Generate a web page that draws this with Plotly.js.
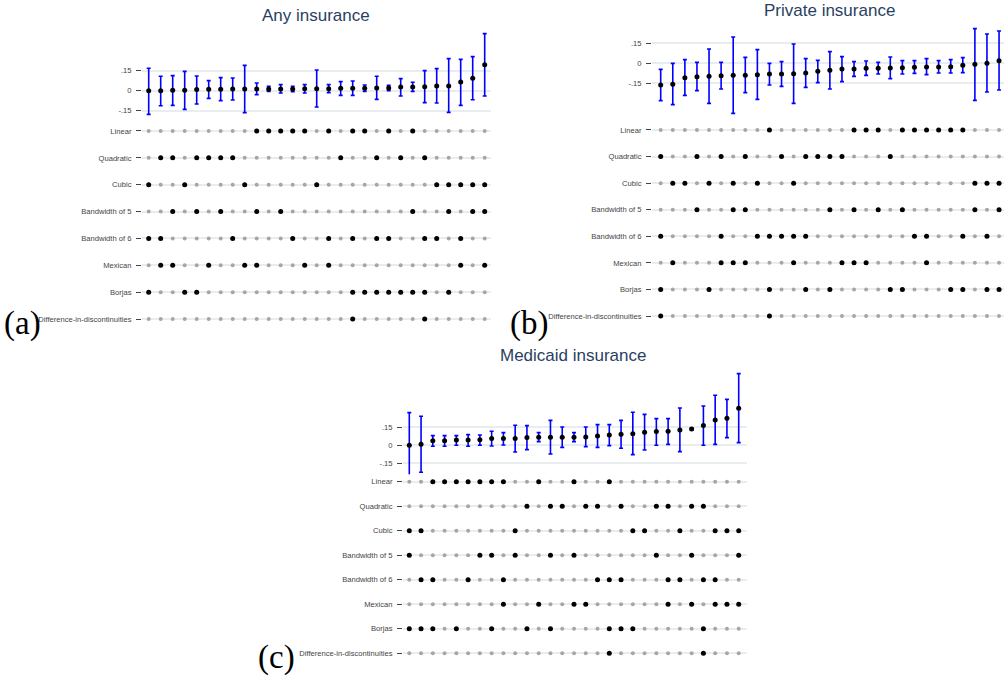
<!DOCTYPE html>
<html>
<head>
<meta charset="utf-8">
<script src="https://cdn.plot.ly/plotly-3.0.1.min.js"></script>
<style>html,body{margin:0;padding:0;background:#fff;}#chart{width:1004px;height:681px;}</style>
</head>
<body>
<div id="chart"></div>
<script>
// ---------- Data ----------
const specLabels = ["Linear", "Quadratic", "Cubic", "Bandwidth of 5", "Bandwidth of 6", "Mexican", "Borjas", "Difference-in-discontinuities"];
const estTickVals = [-0.15, 0, 0.15];
const estTickText = ["-.15", "0", ".15"];

// (a) Any insurance
const anyEst = [0.0, 0.0, 0.003, 0.003, 0.008, 0.01, 0.01, 0.0125, 0.0125, 0.0125, 0.013, 0.013, 0.013, 0.015, 0.015, 0.015, 0.018, 0.018, 0.018, 0.02, 0.02, 0.028, 0.028, 0.03, 0.035, 0.035, 0.065, 0.093, 0.195];
const anyHi  = [0.168, 0.108, 0.113, 0.145, 0.11, 0.075, 0.098, 0.095, 0.19, 0.058, 0.033, 0.045, 0.033, 0.045, 0.155, 0.045, 0.068, 0.073, 0.043, 0.108, 0.04, 0.09, 0.063, 0.15, 0.165, 0.24, 0.235, 0.255, 0.428];
const anyLo  = [-0.178, -0.113, -0.11, -0.14, -0.1, -0.058, -0.075, -0.07, -0.165, -0.03, -0.005, -0.018, -0.008, -0.018, -0.122, -0.015, -0.035, -0.035, -0.005, -0.065, 0.0, -0.04, -0.005, -0.09, -0.093, -0.163, -0.11, -0.068, -0.04];
const anySpecs = [
  [9, 10, 11, 12, 13, 15, 17, 18, 20, 22],
  [1, 2, 4, 5, 6, 7, 16, 19, 21, 23],
  [0, 3, 8, 14, 24, 25, 26, 27, 28],
  [2, 4, 6, 9, 11, 22, 25, 27, 28],
  [0, 1, 7, 12, 15, 17, 19, 20, 23, 24, 26],
  [1, 2, 5, 8, 9, 13, 15, 26, 28],
  [0, 3, 4, 17, 18, 19, 20, 21, 22, 23, 25],
  [17, 23]
];

// (b) Private insurance
const privEst = [-0.1625, -0.1575, -0.1075, -0.1, -0.0975, -0.0925, -0.09, -0.09, -0.085, -0.08, -0.08, -0.0775, -0.0725, -0.06, -0.0525, -0.0425, -0.0425, -0.0375, -0.0375, -0.035, -0.0325, -0.03, -0.0275, -0.0275, -0.025, -0.015, -0.0075, 0.0, 0.02];
const privHi  = [-0.045, 0.0, 0.0275, 0.0075, 0.1075, 0.0075, 0.1975, 0.045, 0.1025, 0.0, 0.0125, 0.145, 0.035, 0.0225, 0.0875, 0.05, 0.0125, 0.0175, 0.0075, 0.0475, 0.02, 0.02, 0.035, 0.02, 0.0275, 0.0425, 0.26, 0.22, 0.2425];
const privLo  = [-0.28, -0.31, -0.24, -0.205, -0.3, -0.1925, -0.375, -0.22, -0.27, -0.1625, -0.1725, -0.3, -0.18, -0.145, -0.1925, -0.1375, -0.0975, -0.09, -0.08, -0.115, -0.08, -0.075, -0.085, -0.0725, -0.0725, -0.07, -0.2775, -0.215, -0.2];
const privSpecs = [
  [9, 16, 17, 18, 20, 21, 22, 23, 24, 25],
  [0, 3, 5, 7, 10, 12, 13, 14, 15, 19],
  [1, 2, 4, 6, 8, 11, 26, 27, 28],
  [3, 6, 7, 14, 16, 18, 20, 26, 28],
  [0, 5, 8, 9, 10, 11, 12, 21, 22, 25, 27],
  [1, 5, 6, 7, 11, 15, 16, 17, 22],
  [0, 4, 9, 12, 14, 19, 20, 24, 25, 27, 28],
  [0, 9]
];

// (c) Medicaid insurance
const medEst = [0.0, 0.008, 0.039, 0.039, 0.044, 0.044, 0.047, 0.056, 0.056, 0.056, 0.064, 0.067, 0.067, 0.067, 0.067, 0.069, 0.078, 0.086, 0.092, 0.097, 0.108, 0.114, 0.117, 0.128, 0.136, 0.164, 0.211, 0.225, 0.308];
const medHi  = [0.272, 0.242, 0.081, 0.081, 0.081, 0.089, 0.086, 0.117, 0.106, 0.167, 0.164, 0.106, 0.208, 0.153, 0.106, 0.153, 0.172, 0.172, 0.208, 0.275, 0.258, 0.222, 0.222, 0.311, 0.142, 0.328, 0.417, 0.383, 0.597];
const medLo  = [-0.275, -0.225, -0.008, -0.008, 0.0, -0.008, 0.0, -0.006, 0.003, -0.056, -0.036, 0.031, -0.072, -0.017, 0.031, -0.011, -0.017, -0.003, -0.025, -0.078, -0.039, 0.0, 0.008, -0.053, 0.13, 0.0, 0.008, 0.064, 0.022];
const medSpecs = [
  [2, 3, 4, 5, 6, 7, 8, 11, 14, 17],
  [10, 12, 13, 15, 16, 18, 21, 22, 24, 25],
  [0, 1, 9, 19, 20, 23, 26, 27, 28],
  [0, 6, 7, 9, 12, 14, 21, 24, 28],
  [1, 2, 5, 8, 16, 17, 18, 22, 23, 25, 26],
  [8, 11, 14, 15, 22, 24, 26, 27, 28],
  [0, 1, 2, 4, 7, 10, 12, 17, 18, 19, 25],
  [17, 25]
];

const panelTitles = ["Any insurance", "Private insurance", "Medicaid insurance"];
const panelTags = ["(a)", "(b)", "(c)"];

// ---------- Layout helpers ----------
const W = 1004, H = 681;
const px = p => p / W;
const dy = (top, bot) => [1 - bot / H, 1 - top / H];

const panels = [
  {est: anyEst, hi: anyHi, lo: anyLo, specs: anySpecs,
   xdom: [px(142), px(491)], xr: [0.442, 29.525],
   edom: dy(30, 118), er: [-0.205, 0.455],
   mdom: dy(122.9, 327.1),
   title: [316, 16], tag: [22, 324]},
  {est: privEst, hi: privHi, lo: privLo, specs: privSpecs,
   xdom: [px(652), px(1004)], xr: [0.28, 29.41],
   edom: dy(24, 118), er: [-0.41, 0.295],
   mdom: dy(122, 324),
   title: [829, 10], tag: [529, 324]},
  {est: medEst, hi: medHi, lo: medLo, specs: medSpecs,
   xdom: [px(403), px(746.7)], xr: [0.465, 29.68],
   edom: dy(368, 480), er: [-0.289, 0.644],
   mdom: dy(474.3, 660.7),
   title: [573, 356], tag: [276, 657]}
];

const gridColor = "#e8eef0";
const tickFont = {family: "Liberation Sans, Arial, sans-serif", size: 7.6, color: "#444"};
const traces = [];
const layout = {
  width: W, height: H,
  margin: {l: 0, r: 0, t: 0, b: 0},
  paper_bgcolor: "#fff", plot_bgcolor: "#fff",
  showlegend: false,
  annotations: []
};

panels.forEach((p, k) => {
  const xn = k === 0 ? "x" : "x" + (k + 1);
  const yeN = 2 * k + 1, ymN = 2 * k + 2;
  const ye = yeN === 1 ? "y" : "y" + yeN;
  const ym = "y" + ymN;
  const n = p.est.length;
  const xs = p.est.map((_, i) => i + 1);

  // estimates with CI
  traces.push({
    type: "scatter", mode: "markers", x: xs, y: p.est, xaxis: xn, yaxis: ye,
    marker: {color: "#000", size: 5},
    error_y: {type: "data", symmetric: false,
      array: p.hi.map((h, i) => h - p.est[i]),
      arrayminus: p.est.map((e, i) => e - p.lo[i]),
      color: "#0000ff", thickness: 1.6, width: 2},
    hoverinfo: "skip"
  });

  // spec matrix: gray for all, black for active
  const gx = [], gy = [], bx = [], by = [];
  specLabels.forEach((lab, r) => {
    const act = new Set(p.specs[r]);
    for (let i = 0; i < n; i++) {
      if (act.has(i)) { bx.push(i + 1); by.push(-r); }
      else { gx.push(i + 1); gy.push(-r); }
    }
  });
  traces.push({type: "scatter", mode: "markers", x: gx, y: gy, xaxis: xn, yaxis: ym,
    marker: {color: "#a6a6a6", size: 4}, hoverinfo: "skip"});
  traces.push({type: "scatter", mode: "markers", x: bx, y: by, xaxis: xn, yaxis: ym,
    marker: {color: "#000", size: 5}, hoverinfo: "skip"});

  layout["xaxis" + (k === 0 ? "" : (k + 1))] = {
    domain: p.xdom, range: p.xr, anchor: ye,
    showgrid: false, zeroline: false, showticklabels: false, ticks: "", showline: false
  };
  const yCommon = {
    ticks: "outside", ticklen: 5, tickwidth: 1, tickcolor: "#444",
    ticklabelstandoff: 3,
    tickfont: tickFont, showgrid: true, gridcolor: gridColor, gridwidth: 2,
    zeroline: false, showline: false, anchor: xn
  };
  layout["yaxis" + (yeN === 1 ? "" : yeN)] = Object.assign({
    domain: p.edom, range: p.er,
    tickmode: "array", tickvals: estTickVals, ticktext: estTickText
  }, yCommon);
  layout["yaxis" + ymN] = Object.assign({
    domain: p.mdom, range: [-7.3, 0.3],
    tickmode: "array", tickvals: specLabels.map((_, r) => -r), ticktext: specLabels
  }, yCommon);

  layout.annotations.push({
    text: panelTitles[k], xref: "paper", yref: "paper",
    x: px(p.title[0]), y: 1 - p.title[1] / H, xanchor: "center", yanchor: "middle",
    showarrow: false, font: {family: "Liberation Sans, Arial, sans-serif", size: 17, color: "#2a3f5f"}
  });
  layout.annotations.push({
    text: panelTags[k], xref: "paper", yref: "paper",
    x: px(p.tag[0]), y: 1 - p.tag[1] / H, xanchor: "center", yanchor: "middle",
    showarrow: false, font: {family: "Liberation Serif, serif", size: 33, color: "#000"}
  });
});

Plotly.newPlot("chart", traces, layout, {displayModeBar: false, staticPlot: true});
</script>
</body>
</html>
